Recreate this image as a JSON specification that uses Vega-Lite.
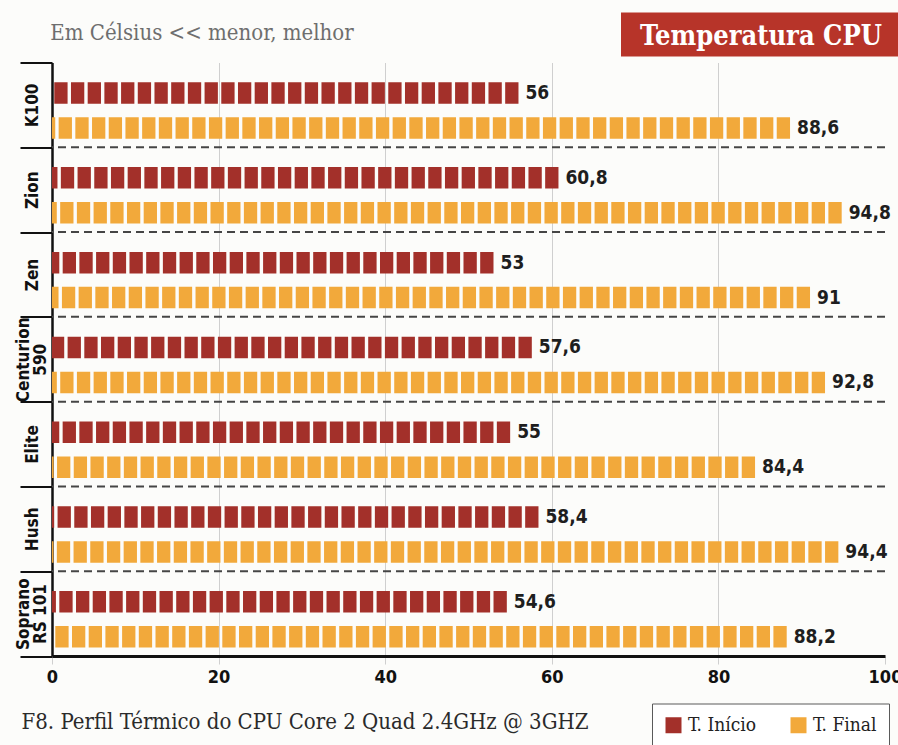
{
  "$schema": "https://vega.github.io/schema/vega-lite/v6.json",
  "padding": {"left": 14, "top": 12.5, "right": 0, "bottom": 0},
  "background": "#fcfcfa",
  "config": {
    "view": {"stroke": null},
    "locale": {"number": {"decimal": ",", "thousands": ".", "grouping": [3], "currency": ["", ""]}}
  },
  "spacing": 5,
  "vconcat": [
    {
      "spacing": 267,
      "hconcat": [
        {
          "width": 300,
          "height": 44,
          "data": {"values": [{"t": "Em Célsius << menor, melhor"}]},
          "mark": {"type": "text", "font": "DejaVu Serif Condensed, DejaVu Serif, serif", "fontSize": 22, "color": "#6e6e6e", "dy": -2},
          "encoding": {"text": {"field": "t", "type": "nominal"}}
        },
        {
          "width": 290,
          "height": 44,
          "view": {"fill": "#b73429", "stroke": null},
          "data": {"values": [{"t": "Temperatura CPU"}]},
          "mark": {"type": "text", "font": "DejaVu Serif Condensed, DejaVu Serif, serif", "fontWeight": "bold", "fontSize": 27, "color": "#ffffff", "dy": 2, "dx": -5},
          "encoding": {"text": {"field": "t", "type": "nominal"}}
        }
      ]
    },
    {
      "width": 833,
      "height": 593.5,
      "data": {
        "values": [
          {"cooler": "K100", "serie": "T. Início", "temp": 56},
          {"cooler": "K100", "serie": "T. Final", "temp": 88.6},
          {"cooler": "Zion", "serie": "T. Início", "temp": 60.8},
          {"cooler": "Zion", "serie": "T. Final", "temp": 94.8},
          {"cooler": "Zen", "serie": "T. Início", "temp": 53},
          {"cooler": "Zen", "serie": "T. Final", "temp": 91},
          {"cooler": "Centurion 590", "serie": "T. Início", "temp": 57.6},
          {"cooler": "Centurion 590", "serie": "T. Final", "temp": 92.8},
          {"cooler": "Elite", "serie": "T. Início", "temp": 55},
          {"cooler": "Elite", "serie": "T. Final", "temp": 84.4},
          {"cooler": "Hush", "serie": "T. Início", "temp": 58.4},
          {"cooler": "Hush", "serie": "T. Final", "temp": 94.4},
          {"cooler": "Soprano RS 101", "serie": "T. Início", "temp": 54.6},
          {"cooler": "Soprano RS 101", "serie": "T. Final", "temp": 88.2}
        ]
      },
      "encoding": {
        "y": {
          "field": "cooler",
          "type": "nominal",
          "sort": ["K100", "Zion", "Zen", "Centurion 590", "Elite", "Hush", "Soprano RS 101"],
          "scale": {"paddingInner": 0, "paddingOuter": 0},
          "axis": {
            "title": null,
            "tickBand": "extent",
            "domainColor": "#111111",
            "domainWidth": 2.5,
            "tickSize": 32,
            "tickWidth": 2,
            "tickColor": "#111111",
            "grid": false,
            "labelAngle": -90,
            "labelAlign": "center",
            "labelBaseline": "middle",
            "labelPadding": {"condition": {"test": "datum.value === 'Centurion 590' || datum.value === 'Soprano RS 101'", "value": -3.5}, "value": -12},
            "labelFont": "Liberation Sans Narrow, DejaVu Sans Condensed, sans-serif",
            "labelFontWeight": "bold",
            "labelFontSize": 17,
            "labelLineHeight": 17,
            "labelColor": "#111111",
            "labelExpr": "datum.label === 'Centurion 590' ? ['Centurion', '590'] : datum.label === 'Soprano RS 101' ? ['Soprano', 'RS 101'] : datum.label"
          }
        }
      },
      "layer": [
        {
          "transform": [{"filter": "datum.serie === 'T. Final' && datum.cooler !== 'Soprano RS 101'"}],
          "mark": {"type": "rule", "strokeDash": [8, 5], "strokeWidth": 2, "color": "#454545"},
          "encoding": {
            "y": {"field": "cooler", "type": "nominal", "bandPosition": 1, "sort": ["K100", "Zion", "Zen", "Centurion 590", "Elite", "Hush", "Soprano RS 101"]}
          }
        },
        {
          "mark": {"type": "rule", "strokeWidth": 21.5, "strokeDash": [13.3, 3.4], "strokeCap": "butt", "strokeDashOffset": {"expr": "-scale('x', datum.temp) - 3.4"}},
          "encoding": {
            "yOffset": {
              "field": "serie",
              "type": "nominal",
              "sort": ["T. Início", "T. Final"],
              "scale": {"paddingInner": 0.386, "paddingOuter": 0.405, "align": 0.7}
            },
            "x": {
              "field": "temp",
              "type": "quantitative",
              "scale": {"domain": [0, 100], "nice": false},
              "axis": {
                "title": "F8.   Perfil Térmico do CPU Core 2 Quad 2.4GHz @ 3GHZ",
                "values": [0, 20, 40, 60, 80, 100],
                "format": "d",
                "domainColor": "#111111",
                "domainWidth": 3,
                "grid": true,
                "gridColor": "#cfcfcf",
                "gridWidth": 1,
                "gridOpacity": {"condition": {"test": "datum.value === 0 || datum.value === 100", "value": 0}, "value": 1},
                "tickColor": "#cfcfcf",
                "tickSize": 8,
                "labelPadding": 4,
                "labelFlush": false,
                "labelFont": "Liberation Sans Narrow, DejaVu Sans Condensed, sans-serif",
                "labelFontWeight": "bold",
                "labelFontSize": 18,
                "labelColor": "#111111",
                "titleFont": "DejaVu Serif Condensed, DejaVu Serif, serif",
                "titleFontSize": 22,
                "titleFontWeight": "normal",
                "titleColor": "#2a2a2a",
                "titleAnchor": "start",
                "titleAlign": "left",
                "titleX": -31,
                "titleY": 72,
                "titleBaseline": "alphabetic"
              }
            },
            "x2": {"datum": 0},
            "color": {
              "field": "serie",
              "type": "nominal",
              "sort": ["T. Início", "T. Final"],
              "scale": {"domain": ["T. Início", "T. Final"], "range": ["#a3302a", "#f2a93b"]},
              "legend": {
                "title": null,
                "orient": "none",
                "legendX": 600,
                "legendY": 691,
                "direction": "horizontal",
                "symbolType": "square",
                "symbolSize": 256,
                "symbolStrokeWidth": 0,
                "labelFont": "DejaVu Serif Condensed, DejaVu Serif, serif",
                "labelFontSize": 19,
                "labelColor": "#222222",
                "labelOffset": 5,
                "columnPadding": 32,
                "padding": 12,
                "fillColor": "#ffffff",
                "strokeColor": "#5a5a5a",
                "encode": {"symbols": {"update": {"fill": {"scale": "color", "field": "value"}, "fillOpacity": {"value": 1}}}}
              }
            }
          }
        },
        {
          "mark": {"type": "text", "align": "left", "baseline": "middle", "dx": 7, "font": "Liberation Sans Narrow, DejaVu Sans Condensed, sans-serif", "fontWeight": "bold", "fontSize": 19, "color": "#1e1e1e"},
          "encoding": {
            "yOffset": {
              "field": "serie",
              "type": "nominal",
              "sort": ["T. Início", "T. Final"],
              "scale": {"paddingInner": 0.386, "paddingOuter": 0.405, "align": 0.7}
            },
            "x": {"field": "temp", "type": "quantitative"},
            "text": {"field": "temp", "type": "quantitative", "format": ".1~f"}
          }
        }
      ]
    }
  ]
}
